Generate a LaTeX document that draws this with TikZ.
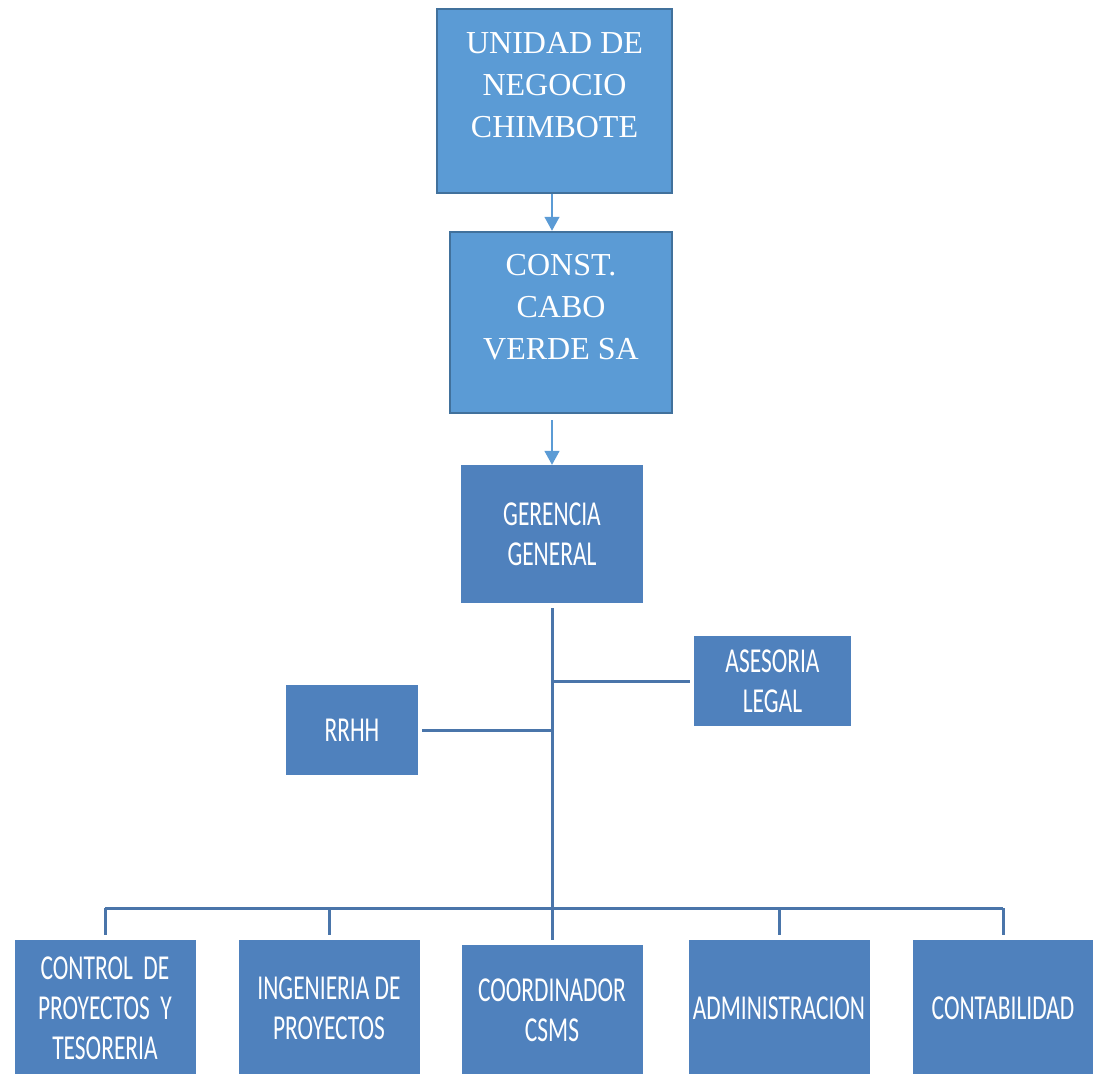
\documentclass[tikz,border=0pt]{standalone}
\usepackage{fontspec}
\setmainfont{Liberation Serif}
\newfontfamily\orgfont[FakeStretch=0.67]{Carlito}
\usetikzlibrary{arrows.meta}

\definecolor{topfill}{HTML}{5B9BD5}
\definecolor{topedge}{HTML}{41719C}
\definecolor{unitfill}{HTML}{4F81BD}
\definecolor{orgline}{HTML}{4A75AA}

\tikzset{
  topbox/.style={draw=topedge, line width=2.5pt, fill=topfill, text=white, align=center,
    inner sep=0pt, text depth=32pt, font=\fontsize{32}{42}\selectfont},
  unitbox/.style={fill=unitfill, text=white, align=center, inner sep=0pt,
    minimum width=181pt, font=\orgfont\fontsize{35}{40}\selectfont},
  flow/.style={draw=topfill, line width=1.5pt, -{Triangle[width=15pt,length=14pt]}},
  link/.style={draw=orgline, line width=3pt}
}

\begin{document}
\begin{tikzpicture}[x=1pt, y=-1pt]
\clip (0,0) rectangle (1093,1074);  % page = reference size
% upper chain
\node[topbox, minimum width=235pt, minimum height=184pt] (unidad) at (554.5,101) {UNIDAD DE\\NEGOCIO\\CHIMBOTE};
\node[topbox, minimum width=222pt, minimum height=181pt] (cabo) at (561,322.5) {CONST.\\CABO\\VERDE SA};
\node[unitbox, minimum width=182pt, minimum height=138pt] (gerencia) at (552,534) {GERENCIA\\GENERAL};
\node[unitbox, minimum width=157pt, minimum height=90pt] (asesoria) at (772.5,681) {ASESORIA\\LEGAL};
\node[unitbox, minimum width=132pt, minimum height=90pt] (rrhh) at (352,730) {RRHH};
% bottom row
\node[unitbox, minimum height=136pt] (control) at (105,1008) {CONTROL \ DE\\PROYECTOS \ Y\\TESORERIA};
\node[unitbox, minimum height=136pt] (ingenieria) at (329,1008) {INGENIERIA DE\\PROYECTOS};
\node[unitbox, minimum height=130pt] (coord) at (552,1010) {COORDINADOR\\CSMS};
\node[unitbox, minimum height=136pt] (admin) at (779,1008) {ADMINISTRACION};
\node[unitbox, minimum height=136pt] (conta) at (1003,1008) {CONTABILIDAD};
\coordinate (bus) at (552,908);

\draw[flow] (unidad.south -| gerencia.north) -- (cabo.north -| gerencia.north);
\draw[flow, shorten <=6pt] (cabo.south -| gerencia.north) -- (gerencia.north);

\draw[link, shorten <=5pt] (gerencia.south) -- (bus);
\draw[link, shorten >=4pt] (gerencia.south |- asesoria.west) -- (asesoria.west);
\draw[link, shorten <=4pt] (rrhh.east) -- (rrhh.east -| gerencia.south);
\draw[link] (control.north |- bus) -- (conta.north |- bus);
\foreach \u in {control, ingenieria, coord, admin, conta}
  \draw[link, shorten >=5pt] (\u.north |- bus) -- (\u.north);
\end{tikzpicture}
\end{document}
